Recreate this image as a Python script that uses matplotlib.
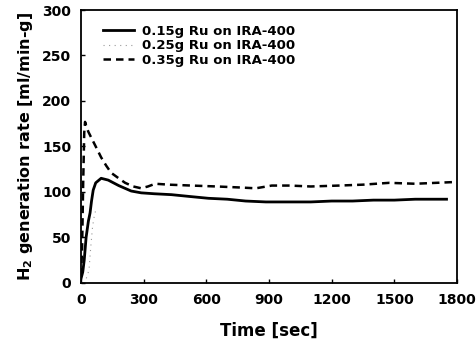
"""
H2 generation rate vs time for Ru on IRA-400 catalysts
"""
import matplotlib.pyplot as plt

# 0.15g Ru on IRA-400 (solid)
t_015 = [0, 8, 15, 24, 35, 43, 50, 58, 70, 96, 130, 180, 240, 288, 350, 433, 520, 610, 700,
         788, 885, 1000, 1100, 1200, 1300, 1400, 1500, 1600, 1750]
r_015 = [5, 12, 25, 50, 68, 77, 90, 102, 110, 115, 113, 107, 101, 99, 98, 97, 95, 93, 92,
         90, 89, 89, 89, 90, 90, 91, 91, 92, 92]

# 0.25g Ru on IRA-400 (faint dotted)
t_025 = [25, 32, 38, 43, 48, 55, 62, 70]
r_025 = [5, 10, 14, 30, 44, 62, 72, 80]

# 0.35g Ru on IRA-400 (dashed)
t_035 = [0, 5, 10, 15, 19, 25, 35, 48, 70, 96, 120, 144, 180, 211, 250, 288, 320, 355, 420,
         529, 650, 750, 837, 913, 1000, 1100, 1235, 1350, 1476, 1600, 1700, 1800]
r_035 = [8, 40, 110, 165, 177, 172, 166, 160, 150, 138, 129, 121, 115, 110, 106, 104, 106, 109, 108,
         107, 106, 105, 104, 107, 107, 106, 107, 108, 110, 109, 110, 111]

plt.rcParams["font.family"] = ["DejaVu Sans"]
plt.rcParams["font.weight"] = "bold"
plt.rcParams["mathtext.default"] = "bf"

fig, ax = plt.subplots(figsize=(4.77, 3.45), dpi=100)
fig.subplots_adjust(left=0.170, right=0.958, top=0.971, bottom=0.18)

ax.plot(t_015, r_015, color="black", lw=2.0, ls="-", label="0.15g Ru on IRA-400")
ax.plot(t_025, r_025, color="#999999", lw=0.8, ls=(0, (1, 4)), label="0.25g Ru on IRA-400")
ax.plot(t_035, r_035, color="black", lw=1.8, ls=(0, (3, 2)), label="0.35g Ru on IRA-400")

ax.set_xlim(0, 1800)
ax.set_ylim(0, 300)
ax.set_xticks(range(0, 1801, 300))
ax.set_yticks(range(0, 301, 50))
ax.tick_params(direction="in", length=3, width=1, labelsize=10, pad=7)
for lbl in ax.get_xticklabels() + ax.get_yticklabels():
    lbl.set_fontweight("bold")
for s in ax.spines.values():
    s.set_linewidth(1.3)

ax.set_xlabel("Time [sec]", fontsize=12, fontweight="bold", labelpad=11)
ax.set_ylabel(r"H$_2$ generation rate [ml/min-g]", fontsize=11.5, fontweight="bold", labelpad=5)

ax.legend(loc="upper left", bbox_to_anchor=(0.045, 0.965), frameon=False,
          handlelength=2.3, handletextpad=0.6, labelspacing=0.12, borderaxespad=0.0,
          prop={"weight": "bold", "size": 9.5})

plt.savefig("out.png", dpi=100)
